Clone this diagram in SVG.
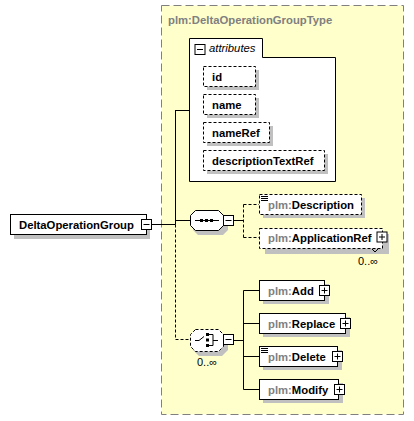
<svg xmlns="http://www.w3.org/2000/svg" width="414" height="421" viewBox="0 0 414 421">
<style>
.t{font-family:"Liberation Sans",Arial,sans-serif;font-size:11.3px;font-weight:bold;fill:#000}
.g{fill:#808080}
.box{fill:#fff;stroke:#000;stroke-width:1}
.dbox{fill:#fff;stroke:#000;stroke-width:1;stroke-dasharray:3,2}
.sh{fill:#c0c0c0}
.ln{stroke:#000;stroke-width:1;fill:none}
.dl{stroke:#000;stroke-width:1;fill:none;stroke-dasharray:3,2}
.pm{fill:#fff;stroke:#000;stroke-width:1}
.mult{font-family:"Liberation Sans",Arial,sans-serif;font-size:11px;fill:#000}
</style>
<defs>
<g id="plus"><rect class="pm" x="0" y="0" width="10" height="10"/><path class="ln" d="M2,5H8M5,2V8"/></g>
<g id="minus"><rect class="pm" x="0" y="0" width="10" height="10"/><path class="ln" d="M2,5H8"/></g>
<g id="doc"><path class="ln" d="M0,0.5H7M0,2.5H7M0,4.5H7"/></g>
</defs>

<g id="type">
<rect x="161.5" y="5.5" width="242" height="409" fill="#ffffcc" stroke="#808080" stroke-dasharray="8,4"/>
<text x="168" y="24" class="t g">plm:DeltaOperationGroupType</text>
</g>

<g id="connectors">
<path class="ln" d="M152,224.5H175.5M175.5,110V224.5M175.5,110.5H189M175.5,220.5H190"/>
<path class="dl" d="M175.5,224.5V339.5H190"/>
<path class="ln" d="M234,220.5H243"/>
<path class="dl" d="M243.5,204.5V237.5M243.5,204.5H259M243.5,237.5H259"/>
<path class="ln" d="M234,340.5H243.5M243.5,290.5V389.5M243.5,290.5H259M243.5,323.5H259M243.5,356.5H259M243.5,389.5H259"/>
</g>

<g id="attributes">
<path d="M189.5,38.5H262.5V57.5H335.5V181.5H189.5Z" fill="#fff" stroke="#000"/>
<use href="#minus" x="195" y="44.5"/>
<text x="209" y="52" class="t" style="font-weight:normal;font-style:italic">attributes</text>
</g>

<g id="attr-id">
<rect class="sh" x="207" y="70" width="52" height="20"/>
<rect class="dbox" x="203.5" y="66.5" width="52" height="20"/>
<text x="212" y="81" class="t">id</text>
</g>
<g id="attr-name">
<rect class="sh" x="207" y="98" width="52" height="20"/>
<rect class="dbox" x="203.5" y="94.5" width="52" height="20"/>
<text x="212" y="109" class="t">name</text>
</g>
<g id="attr-nameRef">
<rect class="sh" x="207" y="126" width="66" height="20"/>
<rect class="dbox" x="203.5" y="122.5" width="66" height="20"/>
<text x="212" y="137" class="t">nameRef</text>
</g>
<g id="attr-descriptionTextRef">
<rect class="sh" x="207" y="154" width="121" height="20"/>
<rect class="dbox" x="203.5" y="150.5" width="121" height="20"/>
<text x="212" y="165" class="t">descriptionTextRef</text>
</g>

<g id="DeltaOperationGroup">
<rect class="sh" x="14" y="219" width="136" height="20"/>
<rect class="box" x="10.5" y="214.5" width="136" height="20"/>
<text x="19" y="229" class="t">DeltaOperationGroup</text>
<use href="#minus" x="141.5" y="219.5"/>
</g>

<g id="sequence">
<path class="sh" d="M198,214H223L228,219V230L223,235H198L193,230V219Z"/>
<path d="M195.5,210.5H218.5L223.5,215.5V225.5L218.5,230.5H195.5L190.5,225.5V215.5Z" fill="#fff" stroke="#000"/>
<path class="ln" d="M195,220.5H219"/>
<rect x="200" y="219" width="3" height="3" fill="#000"/>
<rect x="205" y="219" width="3" height="3" fill="#000"/>
<rect x="210" y="219" width="3" height="3" fill="#000"/>
<use href="#minus" x="223.5" y="215.5"/>
</g>

<g id="Description">
<rect class="sh" x="263" y="198" width="102" height="20"/>
<rect class="dbox" x="259.5" y="194.5" width="102" height="20"/>
<use href="#doc" x="261" y="196"/>
<text x="268" y="209" class="t"><tspan class="g">plm:</tspan>Description</text>
</g>

<g id="ApplicationRef">
<rect class="sh" x="265" y="234" width="124" height="20"/>
<rect class="dbox" x="259.5" y="228.5" width="123" height="20"/>
<text x="268" y="242" class="t"><tspan class="g">plm:</tspan>ApplicationRef</text>
<use href="#plus" x="377" y="232"/>
<path class="ln" d="M372,249L375,252L378,249" stroke="#808080"/>
<text x="358" y="265" class="mult">0..∞</text>
</g>

<g id="choice">
<path class="sh" d="M199,333H222L228,339V350L222,356H199L193,350V339Z"/>
<path d="M195.5,329.5H218.5L223.5,334.5V346.5L218.5,351.5H195.5L190.5,346.5V334.5Z" fill="#fff" stroke="#000" stroke-dasharray="3,2"/>
<path class="ln" d="M195,340.5H199L204,336.5"/>
<rect x="206" y="333" width="3" height="3" fill="#000"/>
<rect x="206" y="338.5" width="3" height="3" fill="#000"/>
<rect x="206" y="344" width="3" height="3" fill="#000"/>
<path class="ln" d="M209,334.5H213V345.5H209M213,340.5H218"/>
<use href="#minus" x="223.5" y="334.5"/>
<text x="197" y="366" class="mult">0..∞</text>
</g>

<g id="Add">
<rect class="sh" x="263" y="284" width="66" height="20"/>
<rect class="box" x="259.5" y="280.5" width="65" height="20"/>
<text x="268" y="295" class="t"><tspan class="g">plm:</tspan>Add</text>
<use href="#plus" x="319.5" y="285.5"/>
</g>

<g id="Replace">
<rect class="sh" x="263" y="317" width="87" height="20"/>
<rect class="box" x="259.5" y="313.5" width="86" height="20"/>
<text x="268" y="328" class="t"><tspan class="g">plm:</tspan>Replace</text>
<use href="#plus" x="340.5" y="318.5"/>
</g>

<g id="Delete">
<rect class="sh" x="263" y="350" width="79" height="20"/>
<rect class="box" x="259.5" y="346.5" width="78" height="20"/>
<use href="#doc" x="261" y="348"/>
<text x="268" y="361" class="t"><tspan class="g">plm:</tspan>Delete</text>
<use href="#plus" x="332.5" y="351.5"/>
</g>

<g id="Modify">
<rect class="sh" x="263" y="383" width="80" height="20"/>
<rect class="box" x="259.5" y="379.5" width="79" height="20"/>
<text x="268" y="394" class="t"><tspan class="g">plm:</tspan>Modify</text>
<use href="#plus" x="334.5" y="384.5"/>
</g>
</svg>
